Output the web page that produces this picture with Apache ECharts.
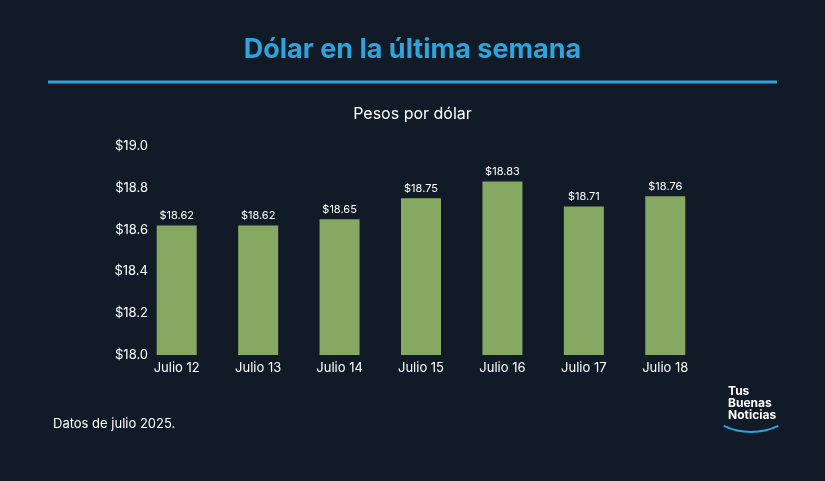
<!DOCTYPE html>
<html lang="es">
<head>
<meta charset="UTF-8">
<script src="https://cdn.jsdelivr.net/npm/echarts@6/dist/echarts.min.js"></script>
<style>
  html, body { margin: 0; padding: 0; background: #111b27; }
  #main { width: 825px; height: 481px; }
</style>
</head>
<body>
<div id="main"></div>
<script>
var days = ['Julio 12', 'Julio 13', 'Julio 14', 'Julio 15', 'Julio 16', 'Julio 17', 'Julio 18'];
var pesos = [18.62, 18.62, 18.65, 18.75, 18.83, 18.71, 18.76];

var chart = echarts.init(document.getElementById('main'));
var font = 'Inter, "Noto Sans", sans-serif';

chart.setOption({
  backgroundColor: '#111b27',
  textStyle: { fontFamily: font },
  title: [
    { text: 'Dólar en la última semana', left: 'center', top: 31,
      textStyle: { color: '#2ea3dc', fontSize: 27, fontWeight: 'bold', fontFamily: font } },
    { text: 'Pesos por dólar', left: 'center', top: 101,
      textStyle: { color: '#ffffff', fontSize: 16, fontWeight: 'normal', fontFamily: font } }
  ],
  graphic: [
    { type: 'line', shape: { x1: 48, y1: 82, x2: 777, y2: 82 },
      style: { stroke: '#2ea3dc', lineWidth: 3 } },
    { type: 'text', left: 53, top: 418,
      style: { text: 'Datos de julio 2025.', fill: '#ffffff', fontSize: 13, fontFamily: font } },
    { type: 'text', left: 728, top: 385,
      style: { text: 'Tus\nBuenas\nNoticias', fill: '#ffffff', fontSize: 12, fontWeight: 'bold',
               lineHeight: 12, fontFamily: font } },
    { type: 'arc', shape: { cx: 751, cy: 368, r: 64, startAngle: Math.PI * 0.36, endAngle: Math.PI * 0.64 },
      style: { stroke: '#2ea3dc', lineWidth: 2, fill: null } }
  ],
  grid: { left: 136, width: 570, top: 146, bottom: 126 },
  xAxis: {
    type: 'category', data: days,
    axisLine: { show: false }, axisTick: { show: false },
    axisLabel: { color: '#ffffff', fontSize: 13, margin: 7 }
  },
  yAxis: {
    type: 'value', min: 18, max: 19, interval: 0.2,
    splitLine: { show: false },
    axisLabel: { color: '#ffffff', fontSize: 13, margin: -12,
      formatter: function (v) { return '$' + v.toFixed(1); } }
  },
  series: [{
    type: 'bar', data: pesos, barWidth: 40,
    itemStyle: { color: '#87a862' },
    label: { show: true, position: 'top', color: '#ffffff', fontSize: 11, distance: 4,
      formatter: function (p) { return '$' + p.value.toFixed(2); } }
  }]
});
</script>
</body>
</html>
